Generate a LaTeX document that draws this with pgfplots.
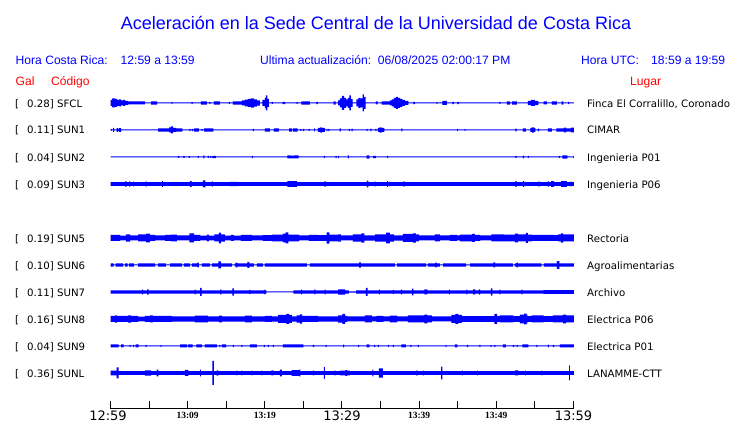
\documentclass[border=0pt]{standalone}
\usepackage{fontspec}
\usepackage{pgfplots}
\pgfplotsset{compat=1.18}
\usepackage{pgfplotstable}
\usepgfplotslibrary{fillbetween}
\newfontfamily\fLib{Liberation Sans}
\newfontfamily\fDjv{DejaVu Sans}
\newfontfamily\fSer{Liberation Serif}
\definecolor{tblue}{RGB}{0,0,255}
\definecolor{tred}{RGB}{255,0,0}
\tikzset{
  lab/.style={anchor=base west, inner sep=0pt, font=\fDjv\fontsize{10.2}{12}\selectfont, text=black},
  hdr/.style={anchor=base west, inner sep=0pt, font=\fLib\fontsize{12.1}{14}\selectfont, text=tblue},
  rdl/.style={anchor=base west, inner sep=0pt, font=\fLib\fontsize{12.1}{14}\selectfont, text=tred}}

% x = pixel column of the trace (110.5 = 12:59, 573.5 = 13:59), a = half amplitude (px)
\pgfplotstableread[row sep=\\]{x a\\
110.5 3\\ 112 4.5\\ 115 4\\ 117 3\\ 119 3.5\\ 121 2.5\\ 123 3\\ 125 2\\ 128 1.5\\ 145 0.5\\
151 1.7\\ 157 0.5\\ 171.5 1.2\\ 172.5 0.5\\ 191.5 1.2\\ 192.5 0.5\\ 201 1.7\\ 207 0.5\\ 209.5 1.2\\ 210.5 0.5\\
214 1.7\\ 220 0.5\\ 229 1.2\\ 230 0.5\\ 233 1.7\\ 242 2.5\\ 245 3.3\\ 248 4\\ 251 4.7\\ 254 3.7\\ 257 2.7\\ 260 0.5\\
262.5 3\\ 265 5\\ 266 7.5\\ 267.5 4\\ 269 0.5\\ 272 1\\ 273 0.5\\ 282.5 1.2\\ 285 0.5\\ 296.5 1\\ 297.5 0.5\\
301.5 1.7\\ 310 0.5\\ 316.5 1.2\\ 318 0.5\\ 333.5 1.7\\ 335.5 0.5\\ 338 2.5\\ 340 4.5\\ 342 7\\ 344 5\\ 346 3.5\\
348 5\\ 349.5 7.5\\ 351 4\\ 352.5 0.5\\ 356.5 3.5\\ 358.5 5\\ 360.5 4.5\\ 362.5 8.5\\ 364 6\\ 365.5 0.5\\
376 1.5\\ 377.5 0.5\\ 381.5 1.7\\ 390 2.5\\ 392 3.5\\ 394 5\\ 396 6\\ 398 5\\ 400 4\\ 402.5 3\\ 405 2\\ 408.5 0.5\\
413.5 1.2\\ 415 0.5\\ 436.5 1\\ 437.5 0.5\\ 442.5 2\\ 447 0.5\\ 452.5 1.2\\ 454 0.5\\ 457.5 1.2\\ 459 0.5\\
499.5 1\\ 500.5 0.5\\ 507 1.7\\ 510 0.5\\ 512 1.7\\ 517 0.5\\ 528 2.2\\ 531 3\\ 535 2.2\\ 538.5 0.5\\
543.5 1.5\\ 547 0.5\\ 552 1.7\\ 557 0.5\\ 561.5 1.7\\ 563.5 0.5\\ 568 1.2\\ 569 0.5\\ 574 0.5\\
}\sfcl
\pgfplotstableread[row sep=\\]{x a\\
110.5 1\\ 111.5 0.5\\ 113 2\\ 114 0.5\\ 116.5 1.8\\ 118 1\\ 119 1.8\\ 121 0.5\\ 158 1.7\\ 166 1.7\\ 169 2.5\\
171 3.5\\ 173 2\\ 176 1.7\\ 182.5 0.5\\ 189.5 1.2\\ 190.5 0.5\\ 192 1.2\\ 193 0.5\\ 194 1.7\\ 199 0.5\\
201.5 1\\ 202.5 0.5\\ 204 1.7\\ 213.5 0.5\\ 253 1.2\\ 254 0.5\\ 265 1.7\\ 270 0.5\\ 274 1.7\\ 279 0.5\\
289 1.7\\ 292 0.5\\ 293 1.7\\ 297.5 0.5\\ 300.5 1\\ 301.5 0.5\\ 303 1.2\\ 304 0.5\\ 308.5 1\\ 309.5 0.5\\
314 1.5\\ 315 0.5\\ 318 2\\ 320.5 2.7\\ 322 2\\ 325 0.5\\ 326.5 1.2\\ 327.5 0.5\\ 328.5 1.2\\ 329.5 0.5\\
339.5 1.5\\ 341 0.5\\ 349 1\\ 350 0.5\\ 351.5 1.3\\ 352.5 0.5\\ 366.5 1\\ 367.5 0.5\\ 370.5 1.3\\ 371.5 0.5\\
375.5 1\\ 376.5 0.5\\ 378 2\\ 379.5 2.7\\ 381.5 2\\ 384.5 0.5\\ 401.5 1.5\\ 402.5 0.5\\ 457 1\\ 458 0.5\\
464.5 1\\ 465.5 0.5\\ 515.5 1.3\\ 516.5 0.5\\ 523 1.7\\ 526 0.5\\ 530.5 2\\ 532 2.7\\ 534 2\\ 535.5 0.5\\
538 1.3\\ 539 0.5\\ 548 1.7\\ 552 0.5\\ 556.5 1.7\\ 564 2.3\\ 566 1.7\\ 571 2.3\\ 574 2.3\\
}\sunone
\pgfplotstableread[row sep=\\]{x a\\
110.5 0.5\\ 178 1\\ 179 0.5\\ 183.5 1.2\\ 184.5 0.5\\ 189 0.9\\ 190 0.5\\ 198 1\\ 199 0.5\\ 203.5 1.5\\ 204.5 0.5\\
208 1\\ 209 0.5\\ 210.5 1\\ 211.5 0.5\\ 212.5 1.2\\ 216 0.5\\ 252 1.2\\ 253 0.5\\ 287.5 1.5\\ 291 1.3\\ 294 1.5\\ 298.5 0.5\\
324 1\\ 325 0.5\\ 335.5 1.2\\ 336.5 0.5\\ 338 1.2\\ 339 0.5\\ 348 1.5\\ 349 0.5\\ 366.5 1.7\\ 369.5 0.5\\
373 1.2\\ 376 0.5\\ 387 1\\ 388 0.5\\ 515.5 1\\ 516.5 0.5\\ 523 1.3\\ 524 0.5\\ 528 1\\ 529 0.5\\
559 1\\ 560 0.5\\ 562.5 1.7\\ 567.5 0.5\\ 573.5 1.2\\ 574 1.2\\
}\suntwo
\pgfplotstableread[row sep=\\]{x a\\
110.5 1.8\\ 125 2.7\\ 126.5 1.8\\ 129 2.7\\ 130 1.8\\ 133 2.4\\ 134 1.8\\ 145.5 2.7\\ 146.5 1.8\\ 162 2.8\\ 163 1.8\\
190 2.8\\ 191.5 1.8\\ 203 3.5\\ 205.5 1.8\\ 212 2.6\\ 213 1.8\\ 230 2.2\\ 238.5 1.8\\ 287.5 2.9\\ 297 1.8\\
324.5 2.8\\ 325.5 1.8\\ 367 3.3\\ 368.5 1.8\\ 374.5 2.6\\ 375.5 1.8\\ 387 2.8\\ 388 1.8\\ 403.5 2.6\\ 404.5 1.8\\
515.5 2.8\\ 516.5 1.8\\ 523 2.8\\ 524 1.8\\ 538 2.3\\ 540 1.8\\ 548 2.6\\ 549 1.8\\ 551 2.8\\ 554 1.8\\
561 2.8\\ 567 1.8\\ 570.5 2.6\\ 571.5 1.8\\ 574 2.2\\
}\sunthree
\pgfplotstableread[row sep=\\]{x a\\
110.5 3\\ 120 2.3\\ 126 3.7\\ 130 2.5\\ 138 3.5\\ 146 4.3\\ 150 3\\ 155 2.5\\ 165 3\\ 171 3.3\\ 177 2.5\\
189.5 4.5\\ 194 3\\ 200 2.3\\ 207 3.3\\ 209 2.3\\ 214.5 3.5\\ 219 5.3\\ 221 3.7\\ 225 2.3\\ 231 3\\ 234 2.3\\
241 3\\ 252 2.5\\ 263 2.8\\ 272 3.3\\ 283 4.3\\ 285.5 5.5\\ 288.5 3.3\\ 299 2.5\\ 309 3\\ 318 2.8\\
326.5 5.7\\ 329.5 3.3\\ 338 3.7\\ 341 2.5\\ 353 3.7\\ 361.5 4.7\\ 364.5 2.7\\ 375 3.7\\ 386 5.3\\ 390 3.7\\
394 2.7\\ 403 4\\ 413 4.7\\ 416 3.5\\ 419 2.5\\ 435 3.5\\ 440 2.5\\ 450 3\\ 457 2.5\\ 460 3.3\\ 472 4\\
475 3\\ 480 2.5\\ 491.5 3.5\\ 504 3.3\\ 515 4.3\\ 518 3.5\\ 526 5\\ 528 3.3\\ 532 3\\ 554 2.8\\ 558 3.5\\
561 4.7\\ 563 3.5\\ 574 3.5\\
}\sunfive
\pgfplotstableread[row sep=\\]{x a\\
110.5 1.7\\ 113.5 0.5\\ 115.5 1.7\\ 123 0.5\\ 125 1.7\\ 127.5 0.5\\ 129 1.7\\ 134 0.5\\ 138 1.7\\ 155 0.5\\
158 1.7\\ 166 0.5\\ 170 1.7\\ 182 0.5\\ 184 1.7\\ 190 0.5\\ 192 1.7\\ 197.5 2.3\\ 199 0.5\\ 202 1.7\\
210 0.5\\ 212 1.7\\ 218.5 3.5\\ 221 1.7\\ 232 0.5\\ 235 1.7\\ 236 2.3\\ 237.5 1.7\\ 247.5 3\\ 249.5 1.7\\
254 0.5\\ 257 1.7\\ 263 0.5\\ 265 1.7\\ 307 0.5\\ 310 1.7\\ 359 2.7\\ 361 1.7\\ 395 0.5\\ 397 1.7\\
426 0.5\\ 428 1.7\\ 435.5 2.3\\ 437 1.7\\ 440 0.5\\ 443 1.7\\ 466 0.5\\ 470 1.7\\ 493.5 2.5\\ 495 1.7\\
513 0.5\\ 515 1.7\\ 516.5 2.3\\ 518 1.7\\ 541.5 0.5\\ 544 1.7\\ 557 3.8\\ 559.5 1.7\\ 574 1.7\\
}\sunsix
\pgfplotstableread[row sep=\\]{x a\\
110.5 1.6\\ 142 2.3\\ 143 1.6\\ 147 2.7\\ 148.5 1.6\\ 194.5 2.3\\ 195.5 1.6\\ 200 4\\ 201.5 1.6\\
220.5 2.7\\ 221.5 1.6\\ 232.5 3.7\\ 234 1.6\\ 249.5 2\\ 250.5 1.6\\ 264.5 2.3\\ 265.5 1.6\\ 266.5 0.5\\
293.5 1.6\\ 301 2.3\\ 302 1.6\\ 314.5 2.5\\ 315.5 1.6\\ 324.5 2.3\\ 325.5 1.6\\ 338 2.7\\ 345 1.6\\
349 0.6\\ 356 1.6\\ 366 4\\ 367.5 1.6\\ 379 2.3\\ 380 1.6\\ 393 2\\ 394 1.6\\ 401 2.3\\ 402 1.6\\
412 3.3\\ 413.5 1.6\\ 424.5 2.5\\ 427.5 1.6\\ 449 2.3\\ 450 1.6\\ 466.5 2.3\\ 467.5 1.6\\ 473 2.5\\ 475.5 1.6\\
479 2.7\\ 480 1.6\\ 491 3.7\\ 492.5 1.6\\ 499.5 2.3\\ 500.5 1.6\\ 521.5 2.3\\ 522.5 1.6\\ 543.5 2\\ 544.5 1.8\\ 574 1.8\\
}\sunseven
\pgfplotstableread[row sep=\\]{x a\\
110.5 3\\ 115 3.7\\ 117 3\\ 128 3.7\\ 131 3\\ 138 2.3\\ 145 3\\ 150 3.5\\ 153 3\\ 172 2.7\\ 195 3.3\\ 208 2.7\\
219 3.3\\ 222 2.7\\ 245 3.3\\ 252 2.7\\ 265 3\\ 272 2.7\\ 278 4\\ 286.5 5\\ 289 4\\ 292 2.7\\ 296.5 3.7\\
300 4.7\\ 302 3\\ 318 2.7\\ 338 3.7\\ 342.5 5\\ 345 3\\ 347 2.5\\ 365 3.5\\ 372 2.5\\ 376.5 3\\ 383.5 2.5\\
390 3.3\\ 397 2.5\\ 408 3.5\\ 424.5 4.3\\ 427.5 3.5\\ 432 2.5\\ 451.5 4\\ 455.5 5\\ 458.5 4\\ 462 2.8\\
494.5 5\\ 497 2.8\\ 500 3.5\\ 513.5 2.8\\ 520 4.3\\ 524 5.3\\ 526.5 4.3\\ 527.5 2.8\\ 531.5 3.5\\ 543.5 2.8\\
553 3.5\\ 563 4.3\\ 566 3.5\\ 574 3.5\\
}\suneight
\pgfplotstableread[row sep=\\]{x a\\
110.5 1.5\\ 118.5 0.5\\ 121 1.5\\ 123.5 0.5\\ 129.5 1.2\\ 130.5 0.5\\ 133 1.2\\ 134 0.5\\ 135.5 1.5\\ 138.5 0.5\\
145.5 1.2\\ 146.5 0.5\\ 160.5 1.2\\ 161.5 0.5\\ 180 1.5\\ 187 0.5\\ 188 1.5\\ 192.5 0.5\\ 196.5 1.5\\ 202 0.5\\
205 1.5\\ 217 0.5\\ 219.5 1.2\\ 220.5 0.5\\ 222 1.5\\ 226 0.5\\ 233 1.2\\ 234 0.5\\ 241.5 1.2\\ 242.5 0.5\\
250 1.5\\ 257 0.5\\ 264 1.2\\ 265 0.5\\ 268 1.2\\ 269 0.5\\ 273 1.2\\ 274 0.5\\ 283 1.5\\ 303.5 0.5\\
313 1.2\\ 314 0.5\\ 325.5 1.2\\ 326.5 0.5\\ 343 1.4\\ 344 0.5\\ 358 1.2\\ 359 0.5\\ 366.5 1.5\\ 369.5 0.5\\
374 1.2\\ 375 0.5\\ 378 1.2\\ 379 0.5\\ 388 1.2\\ 389 0.5\\ 393 1.2\\ 394 0.5\\ 401.5 1.5\\ 406 0.5\\
410.5 1.2\\ 411.5 0.5\\ 418 1.2\\ 419 0.5\\ 445.5 1.2\\ 446.5 0.5\\ 455 1.5\\ 457.5 0.5\\ 467 1.2\\ 468 0.5\\
479.5 1.2\\ 480.5 0.5\\ 490.5 1.2\\ 491.5 0.5\\ 494.5 1.2\\ 495.5 0.5\\ 503 1.5\\ 506 0.5\\ 513 1.2\\ 514 0.5\\
516.5 1.2\\ 517.5 0.5\\ 522.5 1.5\\ 528.5 0.5\\ 536.5 1.2\\ 537.5 0.5\\ 548 1.3\\ 549 0.5\\ 553 1.2\\ 554 0.5\\
560 1.5\\ 574 1.5\\
}\sunnine
\pgfplotstableread[row sep=\\]{x a\\
110.5 2.3\\ 116.5 5.5\\ 118.5 1.8\\ 145 2.7\\ 151 1.8\\ 156.5 3.3\\ 158.5 1.8\\ 185 3\\ 188.5 1.8\\ 200 3.3\\ 201 1.8\\
212.5 12\\ 214 1.8\\ 216.5 2.7\\ 218.5 1.8\\ 236.5 2.3\\ 237.5 1.8\\ 241.5 2.3\\ 242.5 1.8\\ 251.5 2.3\\ 252.5 1.8\\
261.5 2.3\\ 262.5 1.8\\ 271.5 2.5\\ 273.5 1.8\\ 280 3.3\\ 282 1.8\\ 291.5 2.8\\ 299 3.3\\ 300.5 1.8\\ 313 2.3\\ 314 1.8\\
324 6\\ 325 1.8\\ 334.5 2.3\\ 335.5 1.8\\ 340 2.3\\ 345.5 3\\ 347 2.3\\ 350 1.8\\ 372.5 3.3\\ 373.5 1.8\\
379 4.7\\ 383 1.8\\ 416.5 3\\ 417.5 1.8\\ 423 2.3\\ 424 1.8\\ 441 6.3\\ 442.5 1.8\\ 462 2.3\\ 463 1.8\\
477 2.3\\ 478 1.8\\ 515 2.5\\ 518.5 1.8\\ 525 2.3\\ 526 1.8\\ 541.5 2.3\\ 542.5 1.8\\ 569 7.5\\ 570 1.8\\ 574 1.8\\
}\sunl

\newcommand{\trace}[3]{%
  \addplot[draw=none, const plot, name path=U#3]
    table[x expr={(\thisrow{x}-110.5)*60/463}, y expr={#2+\thisrow{a}}] {#1};
  \addplot[draw=none, const plot, name path=L#3]
    table[x expr={(\thisrow{x}-110.5)*60/463}, y expr={#2-\thisrow{a}}] {#1};
  \addplot[fill=tblue, draw=none] fill between[of=U#3 and L#3];
}
\newcommand{\stn}[4]{%
  \node[lab] at (axis cs:15,#1) {[};
  \node[lab] at (axis cs:27,#1) {#2] #3};
  \node[lab] at (axis cs:587,#1) {#4};
}

\begin{document}
\begin{tikzpicture}
\begin{axis}[at={(0pt,0pt)}, anchor=south west, scale only axis,
  width=740pt, height=423pt, xmin=0, xmax=740, ymin=0, ymax=423,
  y dir=reverse, hide axis, clip=false]
  \node[anchor=base, inner sep=0pt, font=\fLib\fontsize{18}{20}\selectfont, text=tblue]
    at (axis cs:376,29.5) {Aceleración en la Sede Central de la Universidad de Costa Rica};
  \node[hdr] at (axis cs:15.5,65) {Hora Costa Rica:};
  \node[hdr] at (axis cs:120.5,65) {12:59 a 13:59};
  \node[hdr] at (axis cs:260,65) {Ultima actualización:\ \ 06/08/2025 02:00:17 PM};
  \node[hdr] at (axis cs:581,65) {Hora UTC:};
  \node[hdr] at (axis cs:651,65) {18:59 a 19:59};
  \node[rdl] at (axis cs:15.5,85) {Gal};
  \node[rdl] at (axis cs:51,85) {Código};
  \node[rdl] at (axis cs:630,85) {Lugar};
  \stn{107}{0.28}{SFCL}{Finca El Corralillo, Coronado}
  \stn{134}{0.11}{SUN1}{CIMAR}
  \stn{161}{0.04}{SUN2}{Ingenieria P01}
  \stn{188}{0.09}{SUN3}{Ingenieria P06}
  \stn{242}{0.19}{SUN5}{Rectoria}
  \stn{269}{0.10}{SUN6}{Agroalimentarias}
  \stn{296}{0.11}{SUN7}{Archivo}
  \stn{323}{0.16}{SUN8}{Electrica P06}
  \stn{350}{0.04}{SUN9}{Electrica P01}
  \stn{377}{0.36}{SUNL}{LANAMME-CTT}
\end{axis}
\begin{axis}[at={(110.5pt,14pt)}, anchor=south west, scale only axis,
  width=463pt, height=319pt, xmin=0, xmax=60, ymin=14, ymax=333,
  axis x line=bottom, axis y line=none, clip=false,
  axis line style={-, line width=1pt, black},
  xtick={0,5,10,15,20,25,30,35,40,45,50,55,60},
  tick align=inside, major tick length=8pt,
  tick style={black, line width=1pt},
  xticklabels={{\hspace*{-5pt}\fDjv\fontsize{13}{13}\selectfont 12:59},{},
    {\raisebox{2.5pt}{\fSer\bfseries\fontsize{9.5}{9}\selectfont 13:09}},{},
    {\raisebox{2.5pt}{\fSer\bfseries\fontsize{9.5}{9}\selectfont 13:19}},{},
    {\fDjv\fontsize{13}{13}\selectfont 13:29},{},
    {\raisebox{2.5pt}{\fSer\bfseries\fontsize{9.5}{9}\selectfont 13:39}},{},
    {\raisebox{2.5pt}{\fSer\bfseries\fontsize{9.5}{9}\selectfont 13:49}},{},
    {\fDjv\fontsize{13}{13}\selectfont 13:59}},
  xticklabel style={anchor=base, inner sep=0pt, yshift=-12pt}]
  \trace{\sfcl}{320}{a}
  \trace{\sunone}{293}{b}
  \trace{\suntwo}{266}{c}
  \trace{\sunthree}{239}{d}
  \trace{\sunfive}{185}{e}
  \trace{\sunsix}{158}{f}
  \trace{\sunseven}{131}{g}
  \trace{\suneight}{104}{h}
  \trace{\sunnine}{77}{i}
  \trace{\sunl}{50}{j}
\end{axis}
\pgfresetboundingbox
\useasboundingbox (0,0) rectangle (740pt,423pt);
\end{tikzpicture}
\end{document}
